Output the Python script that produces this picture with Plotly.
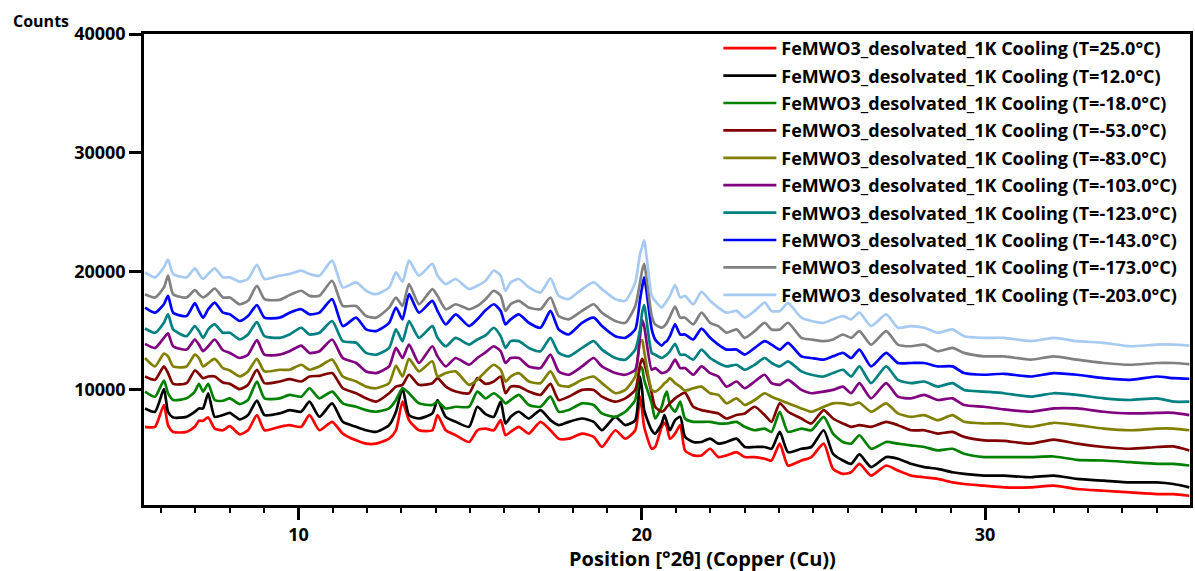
import plotly.graph_objects as go

two_theta = [5.53, 5.82, 6.08, 6.20, 6.35, 6.74, 6.98, 7.10, 7.22, 7.37, 7.56, 7.80, 8.00, 8.29, 8.53, 8.79, 9.01, 9.45, 9.74, 10.08, 10.32, 10.61,
             10.98, 11.29, 11.68, 11.97, 12.26, 12.64, 12.84, 13.03, 13.22, 13.51, 13.90, 14.05, 14.29, 14.58, 14.97, 15.21, 15.45,
             15.69, 15.89, 16.03, 16.18, 16.42, 16.71, 17.05, 17.34, 17.58, 17.87, 18.26, 18.60, 18.84, 19.23, 19.52, 19.81, 19.95, 20.01, 20.07, 20.29,
             20.39, 20.58, 20.66, 20.73, 20.82, 20.97, 21.12, 21.26, 21.50, 21.74, 21.99, 22.23, 22.47, 22.76, 23.00, 23.29, 23.58, 23.78, 24.02, 24.26, 24.65, 24.94, 25.30,
             25.57, 25.86, 26.10, 26.34, 26.68, 27.12, 27.46, 27.84, 28.23, 28.62, 29.05, 29.39, 29.97, 30.55,
             31.33, 32.00, 32.68, 33.46, 34.23, 35.00, 35.49, 35.95]

t_25 = [6890, 6890, 8730, 7030, 6460, 6460, 6890, 7400, 7400, 7680, 6740, 6600, 6940, 6260, 6600, 7880, 6600, 6890, 7030, 6890, 7880, 6600,
        7310, 6320, 5750, 5470, 5470, 5890, 6600, 9010, 7450, 6600, 6600, 7880, 6600, 6180, 5610, 6600, 6740,
        6600, 7450, 6180, 6460, 6890, 6320, 7310, 6600, 5890, 5890, 6320, 6040, 5190, 6600, 5890, 6600, 9430, 8300, 6890, 5040,
        5190, 6890, 7230, 6890, 5890, 6320, 7030, 4900, 4480, 4480, 5040, 4340, 4480, 4760, 4340, 4340, 4200, 4050, 5470, 3630, 4050, 4340, 5470,
        3350, 2920, 3060, 3770, 2780, 3630, 3200, 2780, 2640, 2500, 2210, 2070, 1930, 1790,
        1790, 1930, 1650, 1500, 1360, 1220, 1220, 1080]

t_12 = [8440, 8160, 10060, 8160, 7680, 7730, 8160, 8440, 8440, 9720, 7730, 7880, 8070, 7510, 7880, 9090, 7880, 8020, 8300, 8160, 9010, 7730,
        8870, 7310, 6890, 6600, 6460, 7030, 8160, 10140, 7880, 7590, 8020, 9150, 7730, 7310, 6890, 8580, 7960,
        7730, 9010, 7170, 7730, 8160, 7590, 8300, 7450, 7030, 7310, 7590, 7310, 6600, 7730, 7030, 7450, 11130, 10000, 8300, 6600,
        6320, 7170, 7880, 7310, 6600, 7450, 7730, 6040, 5610, 5610, 5890, 5470, 5610, 5890, 5190, 5190, 5190, 5040, 6460, 4760, 5040, 5190, 6600,
        4620, 4050, 3770, 4560, 3490, 4340, 4200, 3770, 3490, 3350, 3060, 2920, 2780, 2780,
        2640, 2780, 2500, 2350, 2210, 2210, 2070, 1790]

t_m18 = [9860, 9430, 10790, 9720, 9150, 9290, 9860, 10510, 9860, 10510, 9150, 9090, 9290, 8810, 9150, 10710, 9290, 9290, 9580, 9430, 10140, 9290,
         9860, 8870, 8580, 8300, 8160, 8440, 9150, 10140, 9720, 8870, 8730, 9010, 8440, 8580, 8580, 9860, 9290,
         9720, 9290, 8870, 9150, 9580, 8730, 8580, 9430, 8160, 8300, 8870, 8730, 8020, 7730, 8160, 9150, 11980, 11840, 10850, 8870,
         7590, 8580, 9430, 9860, 8730, 8160, 9010, 7590, 7310, 7310, 7310, 7170, 7170, 7310, 6890, 6600, 6740, 6460, 8160, 6460, 6740, 6600, 7730,
         6320, 5610, 5470, 6180, 5040, 5610, 5470, 5330, 5190, 4900, 5040, 4620, 4340, 4340,
         4340, 4390, 4110, 4050, 3910, 3770, 3770, 3630]

t_m53 = [11130, 10850, 11980, 11420, 10510, 10570, 11640, 11360, 10990, 11130, 11130, 10620, 10510, 10060, 10430, 11700, 10570, 10710, 10910, 10710, 11130, 11190,
         11420, 10140, 9720, 9290, 9010, 9720, 10280, 10430, 11280, 10430, 10570, 10990, 10280, 9860, 9720, 10990, 10510,
         10710, 11130, 9720, 10280, 10280, 9860, 9580, 10510, 9150, 9430, 10000, 10000, 9430, 9010, 9290, 10000, 12120, 12610, 12270, 9720,
         8580, 8160, 8300, 8580, 8870, 9290, 9580, 9770, 8580, 8300, 8160, 8020, 7590, 7880, 8020, 8580, 7880, 7310, 8870, 8160, 7590, 7170, 8300,
         7590, 7170, 6890, 7030, 6890, 7310, 7030, 6600, 6600, 6320, 6460, 6040, 5750, 5700,
         5470, 5810, 5470, 5190, 5040, 5190, 5240, 4900]

t_m83 = [12690, 11980, 13060, 12830, 11980, 11980, 12970, 12690, 11980, 12270, 12610, 11840, 11640, 11130, 11560, 12610, 11560, 11700, 11700, 12120, 11700, 11980,
         12550, 11130, 10710, 10280, 10140, 10570, 12040, 11130, 12610, 11560, 12410, 11130, 11420, 11560, 10430, 10850, 11560,
         12120, 11700, 10710, 11130, 11420, 10710, 10570, 11560, 10430, 10280, 10850, 11130, 10570, 9720, 10000, 11130, 14110, 14190, 13260, 10000,
         9860, 10280, 10570, 10710, 10990, 10570, 10280, 9940, 10140, 10280, 9720, 9580, 8870, 9290, 8730, 9150, 9720, 9430, 9150, 8870, 8440, 8160, 8580,
         8870, 8870, 8730, 8920, 8160, 8870, 8020, 7730, 7880, 7450, 7880, 7310, 7170, 7170,
         6890, 7230, 7030, 6740, 6600, 6740, 6740, 6600]

t_m103 = [13880, 13540, 14390, 14760, 13680, 13400, 14250, 13820, 13260, 13680, 14250, 13340, 13120, 12690, 12970, 14190, 12970, 12970, 13260, 13740, 13120, 13260,
          14250, 12690, 12270, 11560, 11420, 11980, 13540, 12690, 13820, 12270, 13680, 12830, 11980, 12690, 12120, 12690, 13170,
          13680, 13260, 12270, 12690, 12690, 11980, 11840, 12970, 11560, 11280, 11980, 12690, 11980, 11420, 11280, 11700, 14530, 15890, 15380, 11700,
          11840, 11420, 11470, 11560, 11840, 12550, 11840, 11840, 11280, 11980, 11420, 11130, 10280, 10710, 10140, 10710, 11280, 10570, 10430, 10850, 10000, 9720, 9860,
          10000, 10280, 9720, 10570, 9290, 10570, 9430, 9290, 9580, 9150, 9290, 8730, 8580, 8360,
          8160, 8440, 8440, 8160, 8020, 8070, 8070, 7880]

t_m123 = [15180, 14820, 15660, 16370, 15100, 14530, 15380, 14960, 14390, 15100, 15520, 14820, 14820, 14250, 14670, 15720, 14530, 14390, 14670, 15240, 14670, 14820,
          15810, 14110, 13970, 13120, 12970, 13540, 15100, 14110, 15810, 14390, 15380, 14390, 13680, 14390, 13820, 14250, 14590,
          15240, 14530, 13540, 14110, 14110, 13540, 13260, 14390, 13120, 12830, 13540, 14110, 13400, 12690, 12550, 13400, 15100, 16510, 17140, 13120,
          12970, 12690, 12830, 12970, 13260, 13880, 12970, 12970, 12550, 13400, 12690, 12270, 11980, 12120, 11700, 12120, 12690, 12270, 11980, 12410, 11560, 11280, 11130,
          11420, 11700, 11130, 11980, 10570, 11980, 10850, 10570, 10710, 10280, 10570, 10000, 9860, 9720,
          9430, 9720, 9580, 9290, 9150, 9290, 9010, 9010]

t_m143 = [16940, 16510, 17220, 17930, 16510, 16230, 17310, 16660, 16090, 16800, 17360, 16510, 16370, 15810, 16230, 17140, 16090, 16090, 16510, 16800, 16370, 16510,
          17650, 15380, 16090, 15100, 14960, 15660, 16940, 15950, 18070, 16510, 17510, 16660, 15520, 16370, 15380, 15950, 16710,
          17220, 16660, 15520, 15950, 16370, 15660, 15240, 16660, 15100, 14670, 15660, 16090, 15380, 14530, 14390, 15100, 17650, 18640, 19490, 15100,
          14250, 13740, 13970, 14110, 14530, 15520, 14670, 14670, 14250, 15160, 14390, 13820, 13400, 13400, 12970, 13540, 14110, 13820, 13400, 13970, 12830, 12690, 12550,
          12830, 13120, 12690, 13400, 11980, 13120, 12270, 12270, 12270, 11980, 11980, 11420, 11280, 11360,
          11130, 11420, 11280, 10990, 10850, 11130, 10990, 10940]

t_m173 = [18070, 17790, 18640, 19630, 18070, 17790, 18410, 18070, 17790, 18070, 18550, 17790, 17790, 17220, 17510, 18780, 17650, 17590, 17990, 18360, 17930, 17930,
          19200, 17080, 17080, 16230, 16090, 16940, 17790, 17080, 18920, 17220, 18500, 17930, 16800, 17220, 16800, 17080, 17650,
          18360, 17930, 16660, 17220, 17510, 16940, 16800, 17790, 16230, 15950, 16660, 17220, 16510, 15810, 15660, 17080, 19060, 20050, 20620, 16230,
          15520, 15240, 15380, 15660, 16170, 17020, 16090, 16090, 15520, 16510, 15660, 15380, 14820, 15100, 14390, 14960, 15660, 15100, 15100, 15660, 14390, 14250, 14110,
          14250, 14670, 14390, 14960, 13820, 14960, 13820, 13680, 13820, 13260, 13540, 13120, 12830, 12830,
          12550, 12830, 12550, 12270, 12120, 12270, 12270, 12180]

t_m203 = [19910, 19490, 20340, 20990, 19770, 19490, 20250, 19770, 19350, 19770, 20250, 19490, 19490, 19120, 19350, 20540, 19350, 19630, 19770, 20050, 19770, 19630,
          20900, 18640, 19060, 18360, 18070, 18640, 19910, 19120, 20900, 19630, 20620, 19630, 18920, 19350, 18500, 18780, 19200,
          20050, 19630, 18360, 19060, 19350, 18640, 18210, 19400, 17930, 17650, 18500, 19060, 18500, 17650, 17510, 19060, 21470, 22040, 22600, 17930,
          17510, 16940, 17220, 17510, 17930, 18840, 17790, 17930, 17220, 18270, 17510, 16940, 16510, 16660, 16090, 16660, 17360, 16660, 16660, 17310, 16090, 15810, 15660,
          15950, 16230, 15950, 16510, 15380, 16370, 15240, 15380, 15240, 14820, 15100, 14530, 14390, 14390,
          14110, 14390, 14110, 13970, 13680, 13820, 13820, 13740]

series_names = [
    "FeMWO3_desolvated_1K Cooling (T=25.0°C)",
    "FeMWO3_desolvated_1K Cooling (T=12.0°C)",
    "FeMWO3_desolvated_1K Cooling (T=-18.0°C)",
    "FeMWO3_desolvated_1K Cooling (T=-53.0°C)",
    "FeMWO3_desolvated_1K Cooling (T=-83.0°C)",
    "FeMWO3_desolvated_1K Cooling (T=-103.0°C)",
    "FeMWO3_desolvated_1K Cooling (T=-123.0°C)",
    "FeMWO3_desolvated_1K Cooling (T=-143.0°C)",
    "FeMWO3_desolvated_1K Cooling (T=-173.0°C)",
    "FeMWO3_desolvated_1K Cooling (T=-203.0°C)",
]
series_values = [t_25, t_12, t_m18, t_m53, t_m83, t_m103, t_m123, t_m143, t_m173, t_m203]
series_colors = ["#ff0000", "#000000", "#008000", "#800000", "#808000",
                 "#800080", "#008080", "#0000ff", "#808080", "#a6caf0"]

FONT = "Open Sans"

fig = go.Figure()
for i, (name, vals, col) in enumerate(zip(series_names, series_values, series_colors)):
    fig.add_trace(go.Scatter(
        x=two_theta, y=vals, mode="lines", name=name,
        legendgroup="g%d" % i,
        line=dict(color=col, width=2.7, shape="spline", smoothing=0.6),
    ))

axis_common = dict(
    showline=True, linecolor="black", linewidth=2.5, mirror=True,
    ticks="outside", tickcolor="black", tickwidth=2.5, ticklen=12,
    showgrid=False, zeroline=False,
    tickfont=dict(family=FONT, size=18, color="black", weight="bold"),
)

fig.update_layout(
    width=1195, height=571,
    margin=dict(l=144, r=2, t=34, b=66),
    paper_bgcolor="white", plot_bgcolor="white",
    showlegend=True,
    legend=dict(
        x=(720 - 144) / 1049, y=1.0 + 4 / 471, xanchor="left", yanchor="top",
        bgcolor="rgba(255,255,255,0)", borderwidth=0,
        font=dict(family=FONT, size=18, color="black", weight="bold"),
        itemwidth=53, tracegroupgap=1, traceorder="grouped",
    ),
    xaxis=dict(range=[5.5, 35.97], tick0=0, dtick=10,
               minor=dict(dtick=1, ticks="outside", ticklen=5, tickwidth=2, tickcolor="black"),
               **axis_common),
    yaxis=dict(range=[300, 40000], tick0=0, dtick=10000, tickformat="d", **axis_common),
    annotations=[
        dict(text="Position [°2θ] (Copper (Cu))", xref="paper", yref="paper",
             x=(704 - 144) / 1049, y=(505 - 558) / 471, xanchor="center", yanchor="middle",
             showarrow=False, font=dict(family=FONT, size=20, color="black", weight="bold")),
        dict(text="Counts", xref="paper", yref="paper",
             x=(41 - 144) / 1049, y=(505 - 21) / 471, xanchor="center", yanchor="middle",
             showarrow=False, font=dict(family=FONT, size=16, color="black", weight="bold")),
    ],
)

fig.write_html("out.html")
